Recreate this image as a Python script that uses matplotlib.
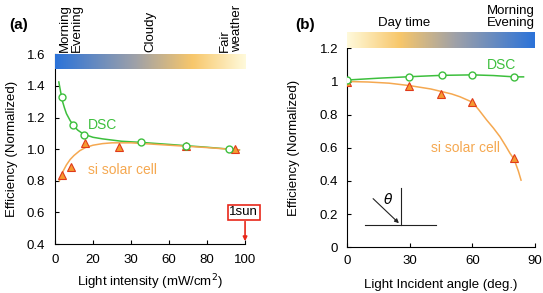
import numpy as np
import matplotlib
matplotlib.use("Agg")
from matplotlib import pyplot as plt
from matplotlib.colors import LinearSegmentedColormap

plt.rcParams['font.family'] = ['Liberation Sans', 'DejaVu Sans']
plt.rcParams['font.size'] = 9.5

# ---- panel (a): light intensity ----
a_dsc_x = [3.5, 9.3, 15.3, 45.3, 68.8, 91.7]
a_dsc_y = [1.33, 1.153, 1.089, 1.045, 1.02, 1.004]
a_si_x = [3.5, 8.3, 15.8, 33.7, 68.8, 94.7]
a_si_y = [0.836, 0.888, 1.04, 1.016, 1.02, 1.0]
# fit curves
a_dsc_fit_x = [2, 3, 4, 5, 6, 8, 10, 12, 15, 20, 25, 35, 45, 60, 80, 97]
a_dsc_fit_y = [1.425, 1.36, 1.30, 1.26, 1.225, 1.18, 1.145, 1.12, 1.095, 1.075,
               1.065, 1.05, 1.043, 1.03, 1.012, 0.995]
a_si_fit_x = [2.3, 4, 6, 8, 10, 13, 16, 20, 25, 30, 40, 60, 80, 97]
a_si_fit_y = [0.80, 0.855, 0.90, 0.935, 0.96, 0.99, 1.01, 1.025, 1.035, 1.04,
              1.04, 1.025, 1.01, 0.995]
a_xticks = [0, 20, 40, 60, 80, 100]
a_xticklabels = ['0', '20', '30', '60', '80', '100']
a_yticks = [0.4, 0.6, 0.8, 1.0, 1.2, 1.4, 1.6]
a_top_labels = ['Morning\nEvening', 'Cloudy', 'Fair\nweather']
a_top_x = [8.2, 50, 92.6]

# ---- panel (b): incident angle ----
b_dsc_x = [0, 29.7, 45.2, 60, 80]
b_dsc_y = [1.009, 1.029, 1.04, 1.04, 1.026]
b_si_x = [0, 29.7, 45, 60, 80]
b_si_y = [1.0, 0.973, 0.922, 0.878, 0.54]
b_dsc_fit_x = [0, 15, 30, 45, 60, 70, 80, 84.5]
b_dsc_fit_y = [1.009, 1.02, 1.029, 1.037, 1.04, 1.036, 1.028, 1.028]
b_si_fit_x = [0, 10, 20, 30, 40, 50, 54, 60, 63, 66.8, 70, 73.2, 76, 78, 80, 82, 83.3]
b_si_fit_y = [1.0, 0.997, 0.99, 0.975, 0.955, 0.925, 0.908, 0.875, 0.83, 0.768,
              0.72, 0.667, 0.61, 0.567, 0.53, 0.46, 0.405]
b_xticks = [0, 30, 60, 90]
b_yticks = [0, 0.2, 0.4, 0.6, 0.8, 1.0, 1.2]
b_yticklabels = ['0', '0.2', '0.4', '0.6', '0.8', '1', '1.2']

green = '#3dbf3d'
orange = '#f5a850'
tri_face = '#f59a30'
tri_edge = '#e03a1a'

blue_c = (0.17, 0.45, 0.85)
gray_c = (0.62, 0.63, 0.66)
gold_c = (0.97, 0.78, 0.42)
pale_c = (1.0, 0.98, 0.86)
grad_a = LinearSegmentedColormap.from_list('ga', [(0, blue_c), (0.42, gray_c), (0.72, gold_c), (1, pale_c)])
grad_b = LinearSegmentedColormap.from_list('gb', [(0, pale_c), (0.28, gold_c), (0.58, gray_c), (1, blue_c)])
ramp = np.linspace(0, 1, 256).reshape(1, -1)

fig = plt.figure(figsize=(5.43, 2.93), dpi=100)

# ---------- (a) ----------
ax = fig.add_axes([0.1013, 0.1672, 0.35, 0.6475])
ax.plot(a_dsc_fit_x, a_dsc_fit_y, color=green, lw=1.1, zorder=2)
ax.plot(a_si_fit_x, a_si_fit_y, color=orange, lw=1.1, zorder=2)
ax.plot(a_dsc_x, a_dsc_y, 'o', ms=5, mfc='white', mec=green, mew=1.0, zorder=4)
ax.plot(a_si_x, a_si_y, '^', ms=5.5, mfc=tri_face, mec=tri_edge, mew=0.8, zorder=3)
ax.imshow(ramp, cmap=grad_a, extent=[0, 100, 1.51, 1.6], aspect='auto', zorder=3)
ax.set_xlim(0, 100)
ax.set_ylim(0.4, 1.6)
ax.set_xticks(a_xticks)
ax.set_xticklabels(a_xticklabels)
ax.set_yticks(a_yticks)
ax.set_yticklabels(['%.1f' % v for v in a_yticks])
ax.spines['top'].set_visible(False)
ax.spines['right'].set_visible(False)
ax.tick_params(direction='in', length=3, width=0.8, labelsize=9.5)
ax.tick_params(axis='x', pad=7)
ax.tick_params(axis='y', pad=7)
ax.set_xlabel('Light intensity (mW/cm$^2$)', fontsize=9.5, labelpad=5)
ax.set_ylabel('Efficiency (Normalized)', fontsize=9.5, labelpad=6)
ax.text(17.5, 1.15, 'DSC', color=green, fontsize=10, va='center')
ax.text(17.5, 0.865, 'si solar cell', color=orange, fontsize=10, va='center')
for lab, xv in zip(a_top_labels, a_top_x):
    ax.text(xv, 1.615, lab, rotation=90, ha='center', va='bottom', fontsize=9.5,
            linespacing=1.0, multialignment='left')
ax.annotate('', xy=(100, 0.4), xytext=(100, 0.56),
            arrowprops=dict(arrowstyle='-|>', color='#e8281a', lw=1.2, mutation_scale=6))
ax.text(99.2, 0.6, '1sun', ha='center', va='center', fontsize=9.5, zorder=5,
        bbox=dict(boxstyle='square,pad=0.12', fc='white', ec='#e8281a', lw=1.2))
fig.text(0.017, 0.915, '(a)', fontsize=11, fontweight='bold', ha='left', va='center')

# ---------- (b) ----------
bx = fig.add_axes([0.6396, 0.156, 0.3457, 0.679])
bx.plot(b_dsc_fit_x, b_dsc_fit_y, color=green, lw=1.1, zorder=2)
bx.plot(b_si_fit_x, b_si_fit_y, color=orange, lw=1.1, zorder=2)
bx.plot(b_dsc_x, b_dsc_y, 'o', ms=5, mfc='white', mec=green, mew=1.0, zorder=4)
bx.plot(b_si_x, b_si_y, '^', ms=5.5, mfc=tri_face, mec=tri_edge, mew=0.8, zorder=3)
bx.imshow(ramp, cmap=grad_b, extent=[0, 90, 1.2, 1.292], aspect='auto', zorder=3, clip_on=False)
bx.set_xlim(0, 90)
bx.set_ylim(0, 1.2)
bx.set_xticks(b_xticks)
bx.set_yticks(b_yticks)
bx.set_yticklabels(b_yticklabels)
bx.spines['top'].set_visible(False)
bx.spines['right'].set_visible(False)
bx.tick_params(direction='in', length=3, width=0.8, labelsize=9.5)
bx.tick_params(axis='x', pad=5.5)
bx.tick_params(axis='y', pad=6.5)
bx.set_xlabel('Light Incident angle (deg.)', fontsize=9.5, labelpad=9)
bx.set_ylabel('Efficiency (Normalized)', fontsize=9.5, labelpad=14)
bx.text(67, 1.1, 'DSC', color=green, fontsize=10, va='center')
bx.text(40, 0.6, 'si solar cell', color=orange, fontsize=10, va='center')
bx.text(27.4, 1.315, 'Day time', ha='center', va='bottom', fontsize=9.5)
bx.text(90, 1.315, 'Morning\nEvening', ha='right', va='bottom', fontsize=9.5,
        linespacing=1.0, multialignment='right')
# incident-angle sketch
bx.plot([8.6, 42.6], [0.134, 0.134], color='#222222', lw=0.8)
bx.plot([25.7, 25.7], [0.134, 0.356], color='#222222', lw=0.8)
bx.annotate('', xy=(25.7, 0.134), xytext=(11.4, 0.305),
            arrowprops=dict(arrowstyle='-|>', color='#222222', lw=0.8, mutation_scale=6))
bx.text(19.7, 0.29, r'$\theta$', fontsize=10, ha='center', va='center')
fig.text(0.543, 0.915, '(b)', fontsize=11, fontweight='bold', ha='left', va='center')

fig.savefig('out.png', dpi=100)
